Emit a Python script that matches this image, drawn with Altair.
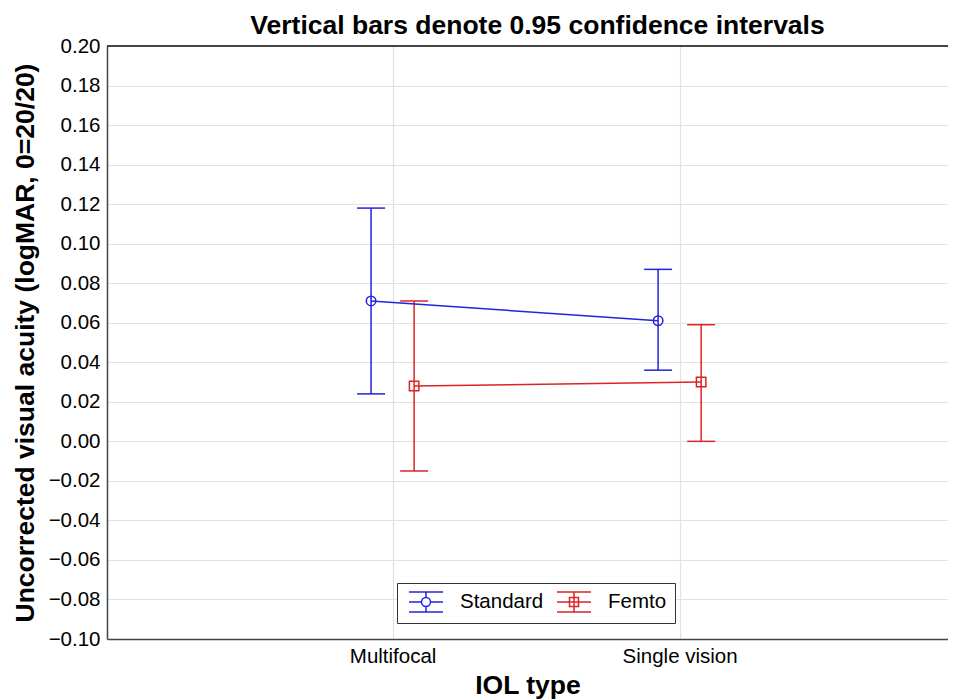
import altair as alt
import pandas as pd

# ---- data ----
categories = ["Multifocal", "Single vision"]
series_names = ["Standard", "Femto"]
standard_mean = [0.071, 0.061]
standard_lower = [0.024, 0.036]
standard_upper = [0.118, 0.087]
femto_mean = [0.028, 0.030]
femto_lower = [-0.015, 0.000]
femto_upper = [0.071, 0.059]
y_ticks = [-0.10, -0.08, -0.06, -0.04, -0.02, 0.00, 0.02, 0.04, 0.06, 0.08,
           0.10, 0.12, 0.14, 0.16, 0.18, 0.20]

colors = ["#2424dc", "#dc2424"]
FONT = "Liberation Sans"

rows = []
for name, means, lows, ups in [
    ("Standard", standard_mean, standard_lower, standard_upper),
    ("Femto", femto_mean, femto_lower, femto_upper),
]:
    for i, cat in enumerate(categories):
        rows.append({"series": name, "category": cat, "idx": i + 1,
                     "mean": means[i], "lower": lows[i], "upper": ups[i]})
df = pd.DataFrame(rows)

label_expr = " : ".join(
    f"datum.value == {i + 1} ? '{c}'" for i, c in enumerate(categories[:-1])
) + f" : '{categories[-1]}'"

base = alt.Chart(df).transform_calculate(
    pos="datum.idx + (datum.series == 'Standard' ? -0.075 : 0.075)"
)

X_TITLE = "IOL type"
Y_TITLE = "Uncorrected visual acuity (logMAR, 0=20/20)"


def xenc(field="pos"):
    return alt.X(
        f"{field}:Q",
        title=X_TITLE,
        scale=alt.Scale(domain=[0.005, 2.935], nice=False, zero=False),
        axis=alt.Axis(values=[1, 2], labelExpr=label_expr, grid=True,
                      gridColor="#e2e2e2", gridWidth=1.2, ticks=False,
                      labelOverlap=False,
                      labelPadding=7, labelFontSize=20.5, titleFontSize=26.5,
                      titlePadding=6, domainColor="#444", domainWidth=1.5,
                      labelColor="black", titleColor="black",
                      labelFont=FONT, titleFont=FONT, titleFontWeight="bold"),
    )


def yenc(field):
    return alt.Y(
        f"{field}:Q",
        title=Y_TITLE,
        scale=alt.Scale(domain=[-0.10, 0.20], nice=False, zero=False),
        axis=alt.Axis(values=y_ticks, format=".2f", grid=True,
                      gridColor="#e2e2e2", gridWidth=1.2, ticks=False,
                      labelOverlap=False, tickCount=16,
                      labelPadding=7, labelFontSize=20.5, titleFontSize=26.5,
                      titlePadding=9, domainColor="#444", domainWidth=1.5,
                      labelColor="black", titleColor="black",
                      labelFont=FONT, titleFont=FONT, titleFontWeight="bold"),
    )


color_scale = alt.Scale(domain=series_names, range=colors)

# legend glyph paths (unit coords, scaled by sqrt(symbolSize)/2)
path_std = ("M-1.7,-1H1.7M-1.7,1H1.7M0,-1V-0.45M0,0.45V1"
            "M-1.7,0H-0.45M0.45,0H1.7"
            "M0.45,0A0.45,0.45,0,1,1,-0.45,0A0.45,0.45,0,1,1,0.45,0")
path_fem = ("M-1.7,-1H1.7M-1.7,1H1.7M0,-1V1"
            "M-1.7,0H1.7"
            "M-0.45,-0.45H0.45V0.45H-0.45Z")

legend_kw = dict(
    title=None, orient="none", legendX=290, legendY=537,
    direction="horizontal", strokeColor="#333", fillColor="white",
    padding=8, symbolSize=400, symbolStrokeWidth=1.5,
    symbolFillColor="transparent", symbolOpacity=1,
    labelFontSize=20.5, labelFont=FONT, labelColor="black",
    labelOffset=23, columnPadding=9, symbolOffset=10,
)

# legend-only layer: its points sit outside the y domain and are clipped away
legend_driver = base.mark_point(filled=False, strokeWidth=1.5, opacity=1,
                                clip=True).encode(
    x=xenc(), y=alt.datum(1.0),
    color=alt.Color("series:N", scale=color_scale, legend=alt.Legend(**legend_kw)),
    shape=alt.Shape("series:N",
                    scale=alt.Scale(domain=series_names, range=[path_std, path_fem]),
                    legend=alt.Legend(**legend_kw)),
)

top_border = alt.Chart(df).mark_rule(color="#444", strokeWidth=1.5).encode(
    y=alt.datum(0.20)
)

bars = base.mark_rule(strokeWidth=1.5).encode(
    x=xenc(), y=yenc("lower"), y2="upper:Q",
    color=alt.Color("series:N", scale=color_scale, legend=None),
)

caps_low = base.mark_rule(strokeWidth=1.5, xOffset=-14, x2Offset=14).encode(
    x=xenc(), x2="pos:Q", y=yenc("lower"),
    color=alt.Color("series:N", scale=color_scale, legend=None),
)
caps_up = base.mark_rule(strokeWidth=1.5, xOffset=-14, x2Offset=14).encode(
    x=xenc(), x2="pos:Q", y=yenc("upper"),
    color=alt.Color("series:N", scale=color_scale, legend=None),
)

lines = base.mark_line(strokeWidth=1.5).encode(
    x=xenc(), y=yenc("mean"),
    color=alt.Color("series:N", scale=color_scale, legend=None),
    detail="series:N",
)

points = base.mark_point(filled=False, size=90, strokeWidth=1.5,
                         opacity=1).encode(
    x=xenc(), y=yenc("mean"),
    color=alt.Color("series:N", scale=color_scale, legend=None),
    shape=alt.condition("datum.series == 'Standard'",
                        alt.value("circle"), alt.value("square")),
)

chart = alt.layer(
    legend_driver, top_border, bars, caps_low, caps_up, lines, points
).properties(
    width=841,
    height=593,
    autosize=alt.AutoSizeParams(type="none"),
    padding={"left": 99, "top": 38, "right": 0, "bottom": 60},
    title=alt.TitleParams(
        "Vertical bars denote 0.95 confidence intervals",
        fontSize=26.5, font=FONT, fontWeight="bold", color="black",
        anchor="middle", frame="group", offset=-3, dx=10,
    ),
).configure_view(stroke="transparent", strokeWidth=0).configure(background="white")

chart.save("out.html", embed_options={"renderer": "svg", "actions": False})
